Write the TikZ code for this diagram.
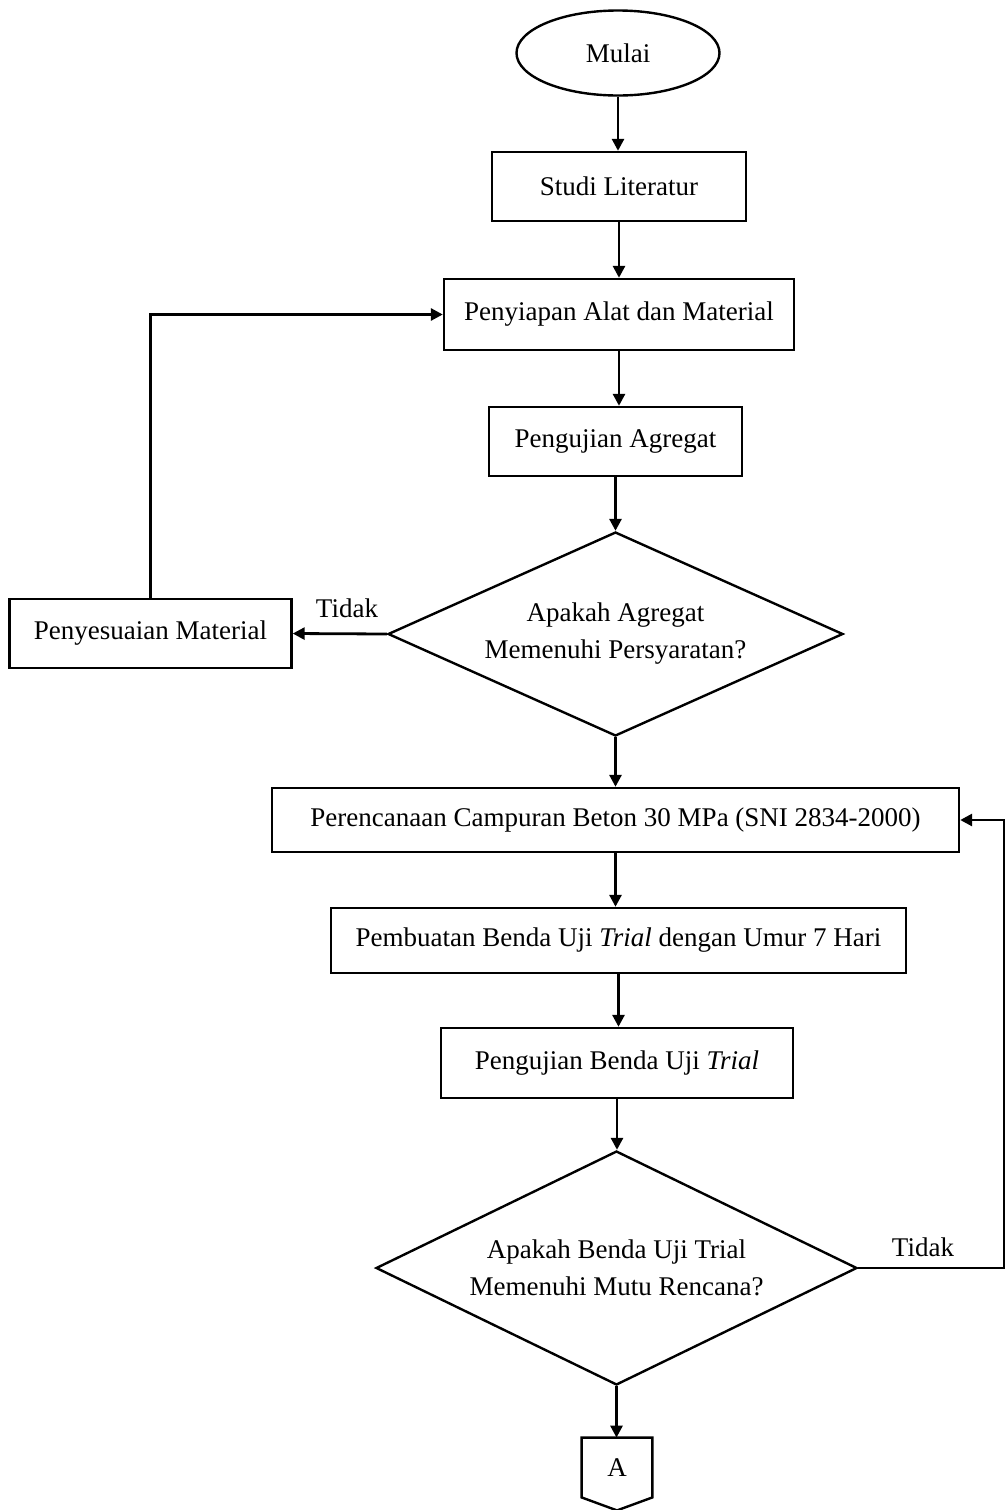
\documentclass[tikz,border=0pt]{standalone}
\usepackage{fontspec}
\setmainfont{Liberation Serif}
\usepackage{tikz}
\usetikzlibrary{shapes.geometric,arrows.meta,calc}

\tikzset{
    every node/.style={font=\fontsize{13.5}{18.5}\selectfont},
    terminal/.style={draw, ellipse, line width=1.2pt, minimum width=101.5pt, minimum height=42.5pt, inner sep=0pt},
    process/.style={draw, rectangle, line width=1.2pt, minimum height=34.5pt, inner sep=0pt},
    decision/.style={draw, diamond, line width=1.2pt, inner sep=0pt, align=center},
    offpage/.style={minimum width=35pt, minimum height=29.5pt, inner sep=0pt},
    flow/.style={line width=1.4pt, -{Triangle[length=6pt,width=6pt]}},
}

\begin{document}
\begin{tikzpicture}[x=0.5pt,y=-0.5pt]
    \useasboundingbox (0,0) rectangle (1006,1510);

    \node[terminal] (mulai) at (618,53) {Mulai};
    \node[process, minimum width=127pt] (studi) at (619,186.5) {Studi Literatur};
    \node[process, minimum width=175pt, minimum height=35.5pt] (siap) at (619,314.5) {Penyiapan Alat dan Material};
    \node[process, minimum width=126.5pt] (agregat) at (615.5,441.5) {Pengujian Agregat};
    \node[decision, aspect=2.23, minimum width=227.5pt, minimum height=102pt] (cekagregat) at (615.5,634) {Apakah Agregat\\Memenuhi Persyaratan?};
    \node[process, minimum width=141pt] (sesuai) at (150.5,633.5) {Penyesuaian Material};
    \node[process, minimum width=343.5pt, minimum height=32pt] (rencana) at (615.5,820) {Perencanaan Campuran Beton 30 MPa (SNI 2834-2000)};
    \node[process, minimum width=287.5pt, minimum height=32.5pt] (buat) at (618.5,940.5) {Pembuatan Benda Uji \textit{Trial} dengan Umur 7 Hari};
    \node[process, minimum width=176pt, minimum height=35pt] (uji) at (617,1063) {Pengujian Benda Uji \textit{Trial}};
    \node[decision, aspect=2.06, minimum width=240.5pt, minimum height=117pt] (cektrial) at (616.5,1268) {Apakah Benda Uji Trial\\Memenuhi Mutu Rencana?};
    \node[offpage] (a) at (617,1467.5) {A};
    \draw[line width=1.2pt] (a.north west) -- (a.north east) -- (a.south east) -- ($(a.south)+(0,13)$) -- (a.south west) -- cycle;

    \node (tidak1) at (347,608) {Tidak};
    \node (tidak2) at (923,1247) {Tidak};
    \coordinate (balik) at (1004,1268);

    \foreach \from/\to in {mulai/studi, studi/siap, siap/agregat, agregat/cekagregat, cekagregat/rencana, rencana/buat, buat/uji, uji/cektrial, cektrial/a}
        \draw[flow] (\from.south) -- (\from.south |- \to.north);

    \draw[flow] (cekagregat.west) -- (sesuai.east);
    \draw[flow] (sesuai.north) |- (siap.west);
    \draw[flow] (cektrial.east) -- (balik) |- (rencana.east);
\end{tikzpicture}
\end{document}
